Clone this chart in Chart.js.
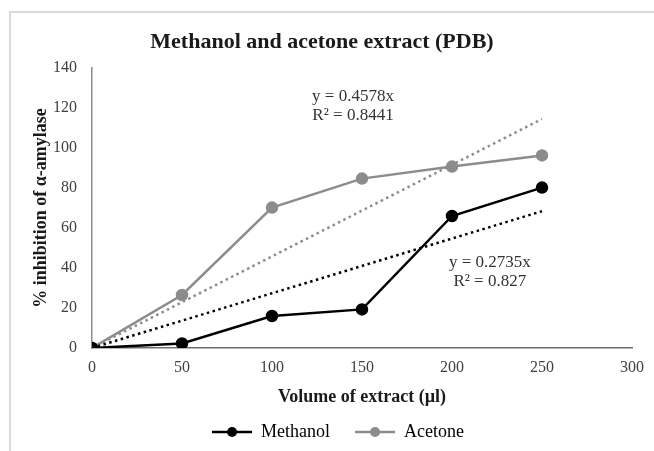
<!DOCTYPE html>
<html>
<head>
<meta charset="utf-8">
<script src="https://cdn.jsdelivr.net/npm/chart.js@4/dist/chart.umd.min.js"></script>
<style>
  body { margin: 0; background: #fff; }
  #wrap { position: relative; width: 654px; height: 451px; }
  #frame { position: absolute; left: 9px; top: 11px; width: 700px; height: 500px;
           border-top: 2px solid #d9d9d9; border-left: 2px solid #d9d9d9; }
  canvas { position: absolute; left: 0; top: 0; }
</style>
</head>
<body>
<div id="wrap">
  <div id="frame"></div>
  <canvas id="chart" width="654" height="451"></canvas>
</div>
<script>
// values
const volumes = [0, 50, 100, 150, 200, 250];
const methanol = [0, 2.3, 16, 19.3, 66, 80.2];
const acetone = [0, 26.5, 70.2, 84.7, 90.7, 96.3];

// linear trendlines through the origin (end points at 250 µl)
const trendX = [0, 250];
const methanolTrend = [0, 68.4];
const acetoneTrend = [0, 114.5];

const xTicks = [0, 50, 100, 150, 200, 250, 300];
const yTicks = [0, 20, 40, 60, 80, 100, 120, 140];

const chartTitle = 'Methanol and acetone extract (PDB)';
const xTitle = 'Volume of extract (µl)';
const yTitle = '% inhibition of α-amylase';
const equations = [
    { x: 145, y: 125.5, text: 'y = 0.4578x' },
    { x: 145, y: 116, text: 'R² = 0.8441' },
    { x: 221, y: 42.5, text: 'y = 0.2735x' },
    { x: 221, y: 33, text: 'R² = 0.827' }
];

const serif = "'Liberation Serif', 'Times New Roman', serif";
const black = '#000000';
const grey = '#8c8c8c';

const toPoints = (xs, ys) => xs.map((x, i) => ({ x: x, y: ys[i] }));

// little legend swatch: line with a dot in the middle
function swatch(color) {
    const c = document.createElement('canvas');
    c.width = 40; c.height = 12;
    const g = c.getContext('2d');
    g.strokeStyle = color; g.lineWidth = 2.5;
    g.beginPath(); g.moveTo(0, 6); g.lineTo(40, 6); g.stroke();
    g.fillStyle = color;
    g.beginPath(); g.arc(20, 6, 5, 0, Math.PI * 2); g.fill();
    return c;
}

const textPlugin = {
    id: 'texts',
    afterDraw(chart) {
        const ctx = chart.ctx;
        const xs = chart.scales.x, ys = chart.scales.y;
        ctx.save();
        ctx.textAlign = 'center';
        ctx.textBaseline = 'middle';
        ctx.fillStyle = '#1a1a1a';
        ctx.font = 'bold 22px ' + serif;
        ctx.fillText(chartTitle, 322, 42);
        ctx.fillStyle = '#333333';
        ctx.font = '17px ' + serif;
        equations.forEach(e => {
            ctx.fillText(e.text, xs.getPixelForValue(e.x), ys.getPixelForValue(e.y));
        });
        ctx.restore();
    }
};

const ctx = document.getElementById('chart').getContext('2d');
new Chart(ctx, {
    type: 'line',
    data: {
        datasets: [
            {
                label: 'Methanol',
                data: toPoints(volumes, methanol),
                borderColor: black,
                backgroundColor: black,
                borderWidth: 2.5,
                pointRadius: 5,
                pointHoverRadius: 5,
                order: 3
            },
            {
                label: 'Acetone',
                data: toPoints(volumes, acetone),
                borderColor: grey,
                backgroundColor: grey,
                borderWidth: 2.5,
                pointRadius: 5,
                pointHoverRadius: 5,
                order: 4
            },
            {
                label: 'Methanol trend',
                data: toPoints(trendX, methanolTrend),
                borderColor: black,
                borderWidth: 2.5,
                borderDash: [2.5, 3.5],
                pointRadius: 0,
                order: 1
            },
            {
                label: 'Acetone trend',
                data: toPoints(trendX, acetoneTrend),
                borderColor: grey,
                borderWidth: 2.5,
                borderDash: [2.5, 3.5],
                pointRadius: 0,
                order: 2
            }
        ]
    },
    options: {
        responsive: false,
        animation: false,
        layout: { padding: { left: 22, right: 0, top: 68, bottom: 0 } },
        plugins: {
            title: { display: false },
            tooltip: { enabled: false },
            legend: {
                position: 'bottom',
                labels: {
                    usePointStyle: true,
                    pointStyleWidth: 40,
                    padding: 25,
                    color: '#333333',
                    font: { family: serif, size: 18 },
                    generateLabels: () => [
                        { text: 'Methanol', pointStyle: swatch(black), fillStyle: black, strokeStyle: black, lineWidth: 0, datasetIndex: 0 },
                        { text: 'Acetone', pointStyle: swatch(grey), fillStyle: grey, strokeStyle: grey, lineWidth: 0, datasetIndex: 1 }
                    ]
                }
            }
        },
        scales: {
            x: {
                type: 'linear',
                min: 0,
                max: 300,
                afterBuildTicks: s => { s.ticks = xTicks.map(v => ({ value: v })); },
                afterFit: s => { s.height = 50; },
                grid: { display: false, drawTicks: false },
                border: { display: true, color: '#6e6e6e', width: 1.5 },
                ticks: { color: '#404040', padding: 10, font: { family: serif, size: 16 } },
                title: {
                    display: true,
                    text: xTitle,
                    color: '#1a1a1a',
                    padding: { top: 0, bottom: -10 },
                    font: { family: serif, size: 18, weight: 'bold' }
                }
            },
            y: {
                min: 0,
                max: 140,
                afterBuildTicks: s => { s.ticks = yTicks.map(v => ({ value: v })); },
                afterFit: s => { s.width = 70; },
                grid: { display: false, drawTicks: false },
                border: { display: true, color: '#8c8c8c', width: 1.5 },
                ticks: { color: '#404040', padding: 15, font: { family: serif, size: 16 } },
                title: {
                    display: true,
                    text: yTitle,
                    color: '#1a1a1a',
                    padding: { top: 9, bottom: 0 },
                    font: { family: serif, size: 18, weight: 'bold' }
                }
            },
            y2: {
                position: 'right',
                display: true,
                afterFit: s => { s.width = 22; },
                grid: { display: false, drawTicks: false },
                border: { display: false },
                ticks: { display: false }
            }
        }
    },
    plugins: [textPlugin]
});
</script>
</body>
</html>
